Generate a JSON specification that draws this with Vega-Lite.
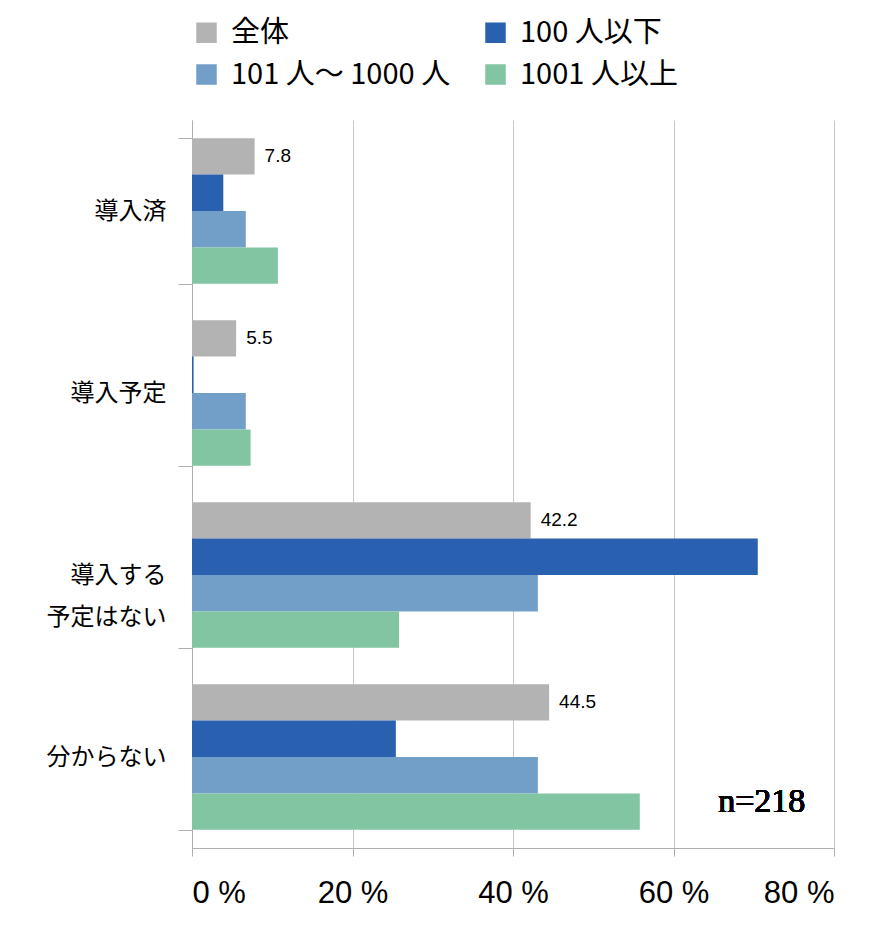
{
  "$schema": "https://vega.github.io/schema/vega-lite/v6.json",
  "width": 642,
  "height": 728,
  "autosize": {"type": "none"},
  "padding": {"left": 192, "top": 120, "right": 62, "bottom": 90},
  "config": {
    "font": "Noto Sans CJK JP",
    "view": {"stroke": null}
  },
  "data": {
    "values": [
      {"cat": "導入済", "grp": "全体", "v": 7.8},
      {"cat": "導入済", "grp": "100 人以下", "v": 3.9},
      {"cat": "導入済", "grp": "101 人～ 1000 人", "v": 6.7},
      {"cat": "導入済", "grp": "1001 人以上", "v": 10.7},
      {"cat": "導入予定", "grp": "全体", "v": 5.5},
      {"cat": "導入予定", "grp": "100 人以下", "v": 0.2},
      {"cat": "導入予定", "grp": "101 人～ 1000 人", "v": 6.7},
      {"cat": "導入予定", "grp": "1001 人以上", "v": 7.3},
      {"cat": "導入する予定はない", "grp": "全体", "v": 42.2},
      {"cat": "導入する予定はない", "grp": "100 人以下", "v": 70.5},
      {"cat": "導入する予定はない", "grp": "101 人～ 1000 人", "v": 43.1},
      {"cat": "導入する予定はない", "grp": "1001 人以上", "v": 25.8},
      {"cat": "分からない", "grp": "全体", "v": 44.5},
      {"cat": "分からない", "grp": "100 人以下", "v": 25.4},
      {"cat": "分からない", "grp": "101 人～ 1000 人", "v": 43.1},
      {"cat": "分からない", "grp": "1001 人以上", "v": 55.8}
    ]
  },
  "encoding": {
    "y": {
      "field": "cat", "type": "nominal", "title": null,
      "sort": ["導入済", "導入予定", "導入する予定はない", "分からない"],
      "scale": {"paddingInner": 0.2, "paddingOuter": 0.1},
      "axis": {
        "tickBand": "extent", "tickSize": 14, "tickColor": "#b0b0b0",
        "domainColor": "#b0b0b0", "labelPadding": 12,
        "labelFontSize": 24, "labelColor": "black", "labelLineHeight": 42,
        "labelExpr": "datum.label == '導入する予定はない' ? ['導入する','予定はない'] : datum.label"
      }
    },
    "x": {
      "field": "v", "type": "quantitative", "title": null,
      "scale": {"domain": [0, 80]},
      "axis": {
        "values": [0, 20, 40, 60, 80], "gridColor": "#c8c8c8",
        "domainColor": "#b0b0b0", "tickColor": "#b0b0b0", "tickSize": 8,
        "labelFontSize": 31, "labelColor": "black", "labelPadding": 22,
        "labelFont": "Liberation Sans",
        "labelExpr": "datum.value + ' %'"
      }
    },
    "yOffset": {"field": "grp", "type": "nominal", "sort": ["全体", "100 人以下", "101 人～ 1000 人", "1001 人以上"]}
  },
  "layer": [
    {
      "mark": {"type": "bar"},
      "encoding": {
        "color": {
          "field": "grp", "type": "nominal", "title": null,
          "scale": {
            "domain": ["全体", "101 人～ 1000 人", "100 人以下", "1001 人以上"],
            "range": ["#b3b3b3", "#729fc7", "#2a60b0", "#82c5a2"]
          },
          "legend": {
            "orient": "none", "legendX": 0, "legendY": -102,
            "columns": 2, "symbolType": "square",
            "symbolSize": 420, "symbolStrokeWidth": 0, "labelFontSize": 29,
            "labelLimit": 400, "columnPadding": 30, "rowPadding": 12, "labelOffset": 10
          }
        }
      }
    },
    {
      "transform": [{"filter": "datum.grp == '全体'"}],
      "mark": {"type": "text", "align": "left", "dx": 10, "fontSize": 19, "font": "Liberation Sans"},
      "encoding": {"text": {"field": "v", "type": "quantitative", "format": ".1f"}}
    },
    {
      "mark": {"type": "text", "fontSize": 34, "fontWeight": "normal", "font": "Liberation Sans Narrow", "align": "center", "dy": 45},
      "encoding": {
        "x": {"datum": 71},
        "y": {"datum": "分からない"},
        "yOffset": null,
        "text": {"value": "n=218"}
      }
    }
  ]
}
